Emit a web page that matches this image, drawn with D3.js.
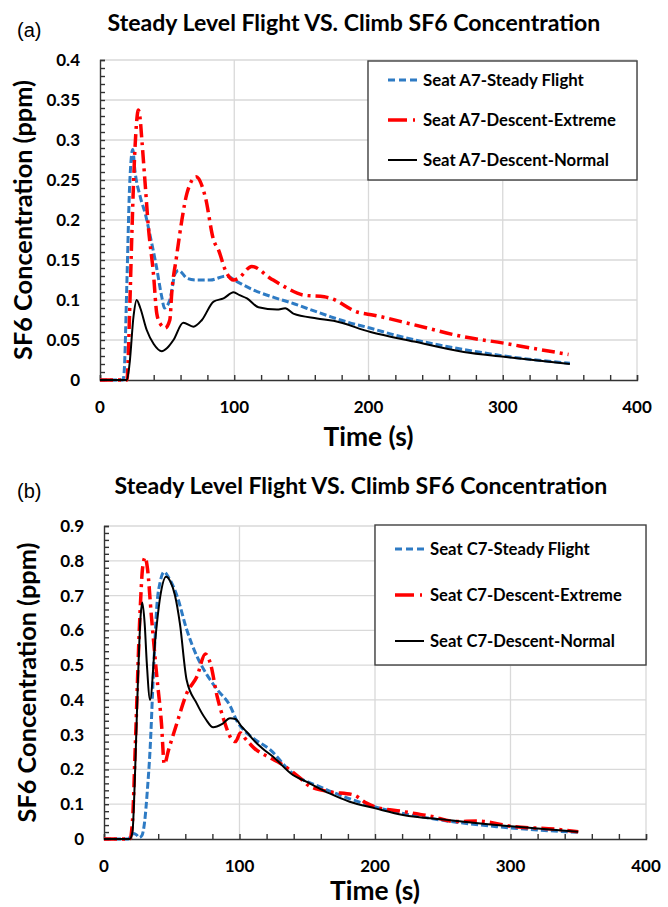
<!DOCTYPE html>
<html>
<head>
<meta charset="utf-8">
<script src="https://cdn.jsdelivr.net/npm/d3@7"></script>
<style>
  html, body { margin: 0; padding: 0; background: #fff; }
  svg { display: block; }
</style>
</head>
<body>
<script>
// axis ticks
const xTicks = [0, 100, 200, 300, 400];
const yTicksA = [0, 0.05, 0.1, 0.15, 0.2, 0.25, 0.3, 0.35, 0.4];
const yTicksB = [0, 0.1, 0.2, 0.3, 0.4, 0.5, 0.6, 0.7, 0.8, 0.9];

const titleText = "Steady Level Flight VS. Climb SF6 Concentration";
const legendA = ["Seat A7-Steady Flight", "Seat A7-Descent-Extreme", "Seat A7-Descent-Normal"];
const legendB = ["Seat C7-Steady Flight", "Seat C7-Descent-Extreme", "Seat C7-Descent-Normal"];

// (a) seat A7
const aSteadyT = [0, 17, 18, 20, 22, 24.4, 26, 30, 34, 37, 42, 46, 48, 52, 56, 58.5, 65, 72, 82, 94, 102, 115, 130, 145, 160, 172, 185, 201, 220, 246, 275, 301, 325, 350];
const aSteadyV = [0, 0, 0.01, 0.12, 0.24, 0.288, 0.262, 0.229, 0.206, 0.183, 0.142, 0.104, 0.09, 0.1, 0.133, 0.137, 0.127, 0.125, 0.125, 0.13, 0.123, 0.112, 0.103, 0.095, 0.086, 0.079, 0.072, 0.065, 0.056, 0.046, 0.037, 0.030, 0.025, 0.021];
const aExtremeT = [0, 20, 22.4, 23.6, 26, 28.6, 30, 31, 33.6, 36, 39.8, 42.3, 45, 48.5, 52, 53.5, 57, 61, 64.7, 71.6, 78.4, 84.6, 88.3, 93.3, 99.5, 103, 113, 127, 137, 152, 167, 172, 191.5, 204, 234, 271, 301, 321, 349];
const aExtremeV = [0, 0, 0.104, 0.175, 0.2875, 0.3375, 0.325, 0.304, 0.246, 0.192, 0.133, 0.083, 0.07, 0.065, 0.075, 0.11, 0.154, 0.2, 0.233, 0.254, 0.229, 0.175, 0.1625, 0.1375, 0.125, 0.127, 0.142, 0.127, 0.117, 0.106, 0.104, 0.102, 0.085, 0.081, 0.069, 0.054, 0.046, 0.040, 0.032];
const aNormalT = [0, 20, 22, 25, 27.3, 30, 34.8, 40, 46, 50, 54.7, 62, 69.6, 75.9, 84.6, 92, 99.5, 104, 109.5, 118, 131.8, 138, 144, 161.7, 174, 201.5, 234, 271, 301, 350];
const aNormalV = [0, 0, 0.02, 0.08, 0.1, 0.09, 0.0625, 0.045, 0.036, 0.04, 0.05, 0.0716, 0.0666, 0.075, 0.098, 0.102, 0.1096, 0.106, 0.102, 0.091, 0.088, 0.0896, 0.083, 0.077, 0.074, 0.060, 0.048, 0.035, 0.029, 0.020];

// (b) seat C7
const bSteadyT = [0, 18, 20, 22, 24, 26, 28, 30, 32, 34, 36.5, 39, 41.5, 44.4, 48, 53.8, 61.2, 68.6, 76, 83.5, 93.3, 98, 104, 110, 122.8, 137.6, 162, 200.3, 240.6, 289.6, 320, 350];
const bSteadyV = [0, 0, 0.01, 0.016, 0.012, 0.004, 0.01, 0.05, 0.14, 0.257, 0.479, 0.67, 0.74, 0.768, 0.75, 0.70, 0.60, 0.525, 0.472, 0.43, 0.381, 0.34, 0.31, 0.29, 0.256, 0.194, 0.146, 0.092, 0.0595, 0.0355, 0.026, 0.019];
const bExtremeT = [0, 19, 21, 23, 26.7, 28.5, 30.4, 32, 35, 39, 42.4, 44.5, 47.7, 53.8, 61.2, 68.6, 74.8, 78.5, 83.5, 88.4, 94.6, 97, 100.7, 104, 110.6, 122.9, 130, 144.8, 152, 166.5, 184, 193.8, 200.3, 220.5, 240.6, 260, 275, 301.7, 333.7, 350];
const bExtremeV = [0, 0, 0.05, 0.257, 0.66, 0.78, 0.81, 0.78, 0.64, 0.467, 0.333, 0.215, 0.257, 0.333, 0.42, 0.467, 0.532, 0.505, 0.41, 0.343, 0.285, 0.28, 0.305, 0.29, 0.262, 0.233, 0.218, 0.175, 0.151, 0.136, 0.127, 0.103, 0.092, 0.079, 0.066, 0.05, 0.052, 0.036, 0.028, 0.021];
const bNormalT = [0, 19, 21, 23, 25, 27, 28.2, 30, 31.6, 34, 37.8, 41.5, 45.8, 49, 52.4, 56, 61, 68.4, 75, 80.6, 87, 93, 97, 101.6, 106, 110.3, 117, 124.6, 139.4, 149.3, 166.5, 181.3, 200.3, 220.7, 252.7, 289.6, 320, 350];
const bNormalV = [0, 0, 0.02, 0.2, 0.45, 0.64, 0.68, 0.62, 0.505, 0.40, 0.572, 0.697, 0.754, 0.74, 0.70, 0.62, 0.457, 0.39, 0.345, 0.321, 0.33, 0.347, 0.345, 0.323, 0.305, 0.285, 0.26, 0.237, 0.184, 0.165, 0.131, 0.107, 0.088, 0.069, 0.055, 0.040, 0.030, 0.021];

const BLUE = "#2e7bc4", RED = "#ff0000", BLACK = "#000000";
const FONT = "Lato, 'Open Sans', sans-serif";

const svg = d3.select("body")
  .append("svg")
    .attr("width", 668)
    .attr("height", 907);

// shrink or grow a text so it spans the given width
function fitWidth(sel, w) {
  let cur = sel.node().getComputedTextLength();
  let fs = parseFloat(sel.attr("font-size"));
  sel.attr("font-size", fs * w / cur);
}

function drawPanel(p) {
  let x = d3.scaleLinear().domain([0, 400]).range([p.left, p.right]);
  let y = d3.scaleLinear().domain([0, p.yMax]).range([p.bottom, p.top]);
  let g = svg.append("g");

  // gridlines
  g.selectAll(".hgrid").data(p.yTicks.slice(1)).enter().append("line")
    .attr("x1", p.left).attr("x2", p.right)
    .attr("y1", d => y(d)).attr("y2", d => y(d))
    .attr("stroke", "#d9d9d9").attr("stroke-width", 1.3);
  g.selectAll(".vgrid").data(xTicks.slice(1)).enter().append("line")
    .attr("x1", d => x(d)).attr("x2", d => x(d))
    .attr("y1", p.top).attr("y2", p.bottom)
    .attr("stroke", "#d9d9d9").attr("stroke-width", 1.3);

  // axes with minor ticks pointing inward
  let xAxis = d3.axisTop(x).ticks(20).tickSize(5).tickFormat("");
  g.append("g").attr("transform", `translate(0,${p.bottom})`).call(xAxis)
    .call(a => a.selectAll("line,path").attr("stroke", "#333").attr("stroke-width", 1.4));
  let yAxis = d3.axisRight(y).tickValues(d3.range(0, p.yMax + 1e-9, p.yMinor)).tickSize(5).tickFormat("");
  g.append("g").attr("transform", `translate(${p.left},0)`).call(yAxis)
    .call(a => a.selectAll("line,path").attr("stroke", "#333").attr("stroke-width", 1.4));

  // tick labels
  g.selectAll(".xl").data(xTicks).enter().append("text")
    .attr("x", d => x(d)).attr("y", p.bottom + 33)
    .attr("text-anchor", "middle")
    .attr("font-family", FONT).attr("font-weight", "bold").attr("font-size", 17)
    .text(d => d);
  g.selectAll(".yl").data(p.yTicks).enter().append("text")
    .attr("x", p.left - 20).attr("y", d => y(d) + 6)
    .attr("text-anchor", "end")
    .attr("font-family", FONT).attr("font-weight", "bold").attr("font-size", 17)
    .text(d => String(+d.toFixed(2)));

  // axis titles
  let xt = g.append("text")
    .attr("x", (p.left + p.right) / 2).attr("y", p.bottom + p.xTitleGap)
    .attr("text-anchor", "middle")
    .attr("font-family", FONT).attr("font-weight", "bold").attr("font-size", 22)
    .text("Time (s)");
  fitWidth(xt, 90);
  let yt = g.append("text")
    .attr("transform", `translate(${p.left - 68},${(p.top + p.bottom) / 2}) rotate(-90)`)
    .attr("text-anchor", "middle")
    .attr("font-family", FONT).attr("font-weight", "bold").attr("font-size", 22)
    .text("SF6 Concentration (ppm)");
  fitWidth(yt, 280);

  // chart title and panel letter
  let tt = g.append("text")
    .attr("x", p.titleX).attr("y", p.titleY)
    .attr("text-anchor", "middle")
    .attr("font-family", FONT).attr("font-weight", "bold").attr("font-size", 20)
    .text(titleText);
  fitWidth(tt, 493);
  g.append("text")
    .attr("x", 17).attr("y", p.letterY)
    .attr("font-family", "'Liberation Sans', Arial, sans-serif").attr("font-size", 20)
    .text(p.letter);

  // series
  let line = (ts, vs) => d3.line()
    .x((d, i) => x(ts[i]))
    .y(d => y(d))
    .curve(d3.curveMonotoneX)(vs);
  p.series.forEach(s => {
    g.append("path")
      .attr("d", line(s.t, s.v))
      .attr("fill", "none")
      .attr("stroke", s.color)
      .attr("stroke-width", s.width)
      .attr("stroke-dasharray", s.dash)
      .attr("stroke-linejoin", "round");
  });

  // legend
  let lg = g.append("g");
  lg.append("rect")
    .attr("x", p.leg.x).attr("y", p.leg.y)
    .attr("width", p.leg.w).attr("height", p.leg.h)
    .attr("fill", "#fff").attr("stroke", "#404040").attr("stroke-width", 1.4);
  p.series.forEach((s, i) => {
    let cy = p.leg.rows[i];
    lg.append("line")
      .attr("x1", p.leg.x + 20).attr("x2", p.leg.x + 49)
      .attr("y1", cy).attr("y2", cy)
      .attr("stroke", s.color).attr("stroke-width", s.width)
      .attr("stroke-dasharray", s.legDash);
    let t = lg.append("text")
      .attr("x", p.leg.x + 55).attr("y", cy + 6)
      .attr("font-family", FONT).attr("font-weight", "bold").attr("font-size", 17)
      .text(p.labels[i]);
    fitWidth(t, p.leg.tw[i]);
  });
}

function seriesList(st, sv, et, ev, nt, nv) {
  return [
    {t: st, v: sv, color: BLUE, width: 3, dash: "7,3", legDash: "7,4"},
    {t: et, v: ev, color: RED, width: 3.5, dash: "13,5,3,5", legDash: "19,6,2,4"},
    {t: nt, v: nv, color: BLACK, width: 2, dash: null, legDash: null}
  ];
}

drawPanel({
  left: 100, right: 637, top: 60, bottom: 380, yMax: 0.4, yMinor: 0.01,
  yTicks: yTicksA, xTitleGap: 66, titleX: 354, titleY: 31, letter: "(a)", letterY: 37,
  labels: legendA,
  leg: {x: 368, y: 61, w: 269, h: 119, rows: [80, 120, 160], tw: [161, 193, 186]},
  series: seriesList(aSteadyT, aSteadyV, aExtremeT, aExtremeV, aNormalT, aNormalV)
});

drawPanel({
  left: 104, right: 646, top: 526, bottom: 839, yMax: 0.9, yMinor: 0.02,
  yTicks: yTicksB, xTitleGap: 61, titleX: 361, titleY: 494, letter: "(b)", letterY: 498,
  labels: legendB,
  leg: {x: 375, y: 525, w: 271, h: 140, rows: [549, 595, 641], tw: [160, 192, 185]},
  series: seriesList(bSteadyT, bSteadyV, bExtremeT, bExtremeV, bNormalT, bNormalV)
});
</script>
</body>
</html>
